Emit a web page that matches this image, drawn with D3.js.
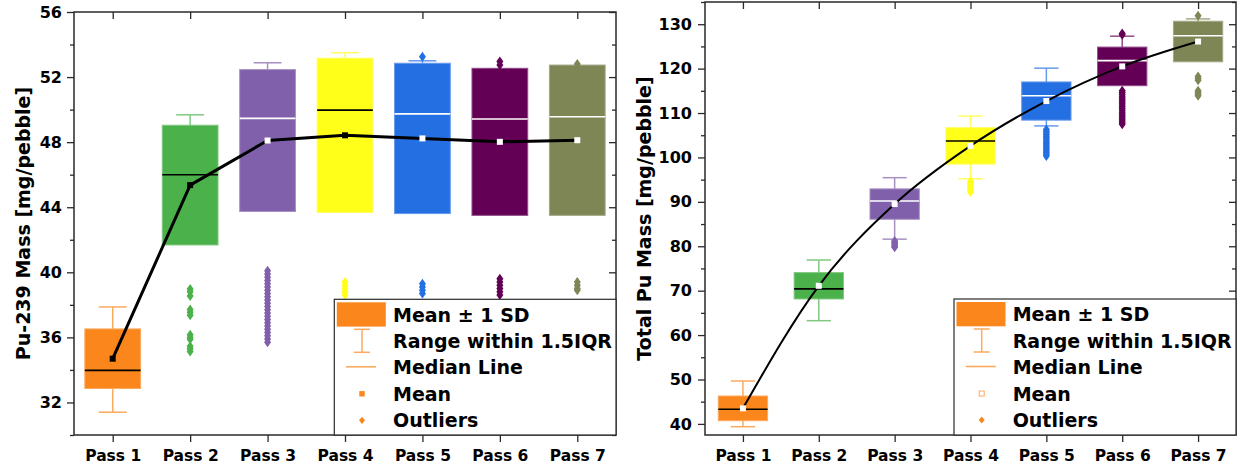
<!DOCTYPE html>
<html>
<head>
<meta charset="utf-8">
<script src="https://cdn.jsdelivr.net/npm/d3@7"></script>
<style>
  body { margin: 0; background: #fff; }
  svg { display: block; }
  text { font-family: "DejaVu Sans", sans-serif; font-weight: bold; fill: #000; }
</style>
</head>
<body>
<svg id="chart" width="1242" height="469"></svg>
<script>
// ---- shared categories and colours ----
const categories = ["Pass 1", "Pass 2", "Pass 3", "Pass 4", "Pass 5", "Pass 6", "Pass 7"];
const passColors = ["#fa861c", "#4bb14a", "#8160ab", "#ffff1a", "#246fe2", "#630056", "#7f8656"];
const legendLabels = ["Mean \u00b1 1 SD", "Range within 1.5IQR", "Median Line", "Mean", "Outliers"];

// ---- Pu-239 mass per pebble ----
const pu239Mean = [34.69, 45.36, 48.10, 48.42, 48.23, 48.02, 48.12];
const pu239SD = [1.83, 3.68, 4.36, 4.74, 4.62, 4.52, 4.62];
const pu239Median = [33.97, 46.0, 49.46, 49.97, 49.74, 49.42, 49.56];
const pu239WhiskerLow = [31.4, 42.0, 44.0, 44.0, 44.0, 44.0, 44.0];
const pu239WhiskerHigh = [37.87, 49.68, 52.88, 53.5, 53.0, 52.5, 52.6];
const pu239Outliers = [
  [],
  [38.97, 38.8, 38.55, 37.72, 37.55, 37.36, 36.16, 36.0, 35.88, 35.45, 35.3, 35.14],
  [40.1, 39.9, 39.7, 39.5, 39.3, 39.1, 38.9, 38.7, 38.5, 38.3, 38.1, 37.9, 37.7,
   37.5, 37.3, 37.1, 36.9, 36.7, 36.5, 36.3, 36.1, 35.9, 35.7],
  [39.4, 39.2, 39.0, 38.8, 38.6],
  [53.25, 39.3, 39.1, 38.9, 38.7],
  [52.95, 52.75, 39.6, 39.4, 39.2, 39.0, 38.8, 38.6],
  [52.8, 39.4, 39.2, 39.0, 38.9]
];
const pu239MajorTicks = [32, 36, 40, 44, 48, 52, 56];
const pu239MinorTicks = [30, 34, 38, 42, 46, 50, 54];

// ---- total Pu mass per pebble ----
const totalPuMean = [43.5, 71.1, 89.5, 102.6, 112.7, 120.5, 126.1];
const totalPuSD = [2.78, 2.97, 3.42, 4.1, 4.3, 4.35, 4.57];
const totalPuMedian = [43.3, 70.4, 90.2, 103.7, 113.9, 121.8, 127.4];
const totalPuWhiskerLow = [39.37, 63.24, 81.6, 95.2, 107.1, 116.5, 122.0];
const totalPuWhiskerHigh = [49.66, 76.9, 95.44, 109.3, 120.1, 127.3, 131.2];
const totalPuOutliers = [
  [],
  [],
  [81.2, 80.9, 80.6, 80.3, 80.0, 79.8],
  [94.6, 94.2, 93.8, 93.4, 93.0, 92.6, 92.2],
  [106.3, 105.9, 105.5, 105.1, 104.7, 104.3, 103.9, 103.5, 103.1, 102.7, 102.3,
   101.9, 101.5, 101.1, 100.7, 100.3],
  [127.9, 127.6, 115.0, 114.6, 114.2, 113.8, 113.4, 113.0, 112.6, 112.2, 111.8,
   111.4, 111.0, 110.6, 110.2, 109.8, 109.4, 109.0, 108.6, 108.2, 107.8, 107.5],
  [131.9, 118.2, 117.8, 117.4, 115.0, 114.6, 114.2, 113.9]
];
const totalPuMajorTicks = [40, 50, 60, 70, 80, 90, 100, 110, 120, 130];
const totalPuMinorTicks = [45, 55, 65, 75, 85, 95, 105, 115, 125, 135];

const svg = d3.select("#chart");
const tint = c => d3.interpolateRgb(c, "#ffffff")(0.3);
const contrast = c => d3.hcl(c).l > 60 ? "#000" : "#fff";
const diamond = (w, h) => `M0,${-h}L${w},0L0,${h}L${-w},0Z`;

function drawPanel(p) {
  const x = d3.scalePoint().domain(categories).range([p.left, p.right]).padding(0.5);
  const y = d3.scaleLinear().domain(p.yDomain).range([p.bottom, p.top]);
  const step = x.step();
  const bw = step * p.boxFrac, cw = step * p.capFrac;
  const rows = categories.map((c, i) => ({
    c, color: passColors[i], mean: p.mean[i], sd: p.sd[i], median: p.median[i],
    lo: p.whiskerLow[i], hi: p.whiskerHigh[i], out: p.outliers[i]
  }));
  const g = svg.append("g");

  // whiskers (behind the boxes)
  const wg = g.append("g").selectAll("g").data(rows).join("g")
    .attr("stroke", d => tint(d.color)).attr("stroke-width", 1.5);
  wg.append("line").attr("x1", d => x(d.c)).attr("x2", d => x(d.c))
    .attr("y1", d => y(d.lo)).attr("y2", d => y(d.hi));
  wg.append("line").attr("x1", d => x(d.c) - cw / 2).attr("x2", d => x(d.c) + cw / 2)
    .attr("y1", d => y(d.hi)).attr("y2", d => y(d.hi));
  wg.append("line").attr("x1", d => x(d.c) - cw / 2).attr("x2", d => x(d.c) + cw / 2)
    .attr("y1", d => y(d.lo)).attr("y2", d => y(d.lo));

  // mean ± 1 SD boxes
  g.append("g").selectAll("rect").data(rows).join("rect")
    .attr("x", d => x(d.c) - bw / 2)
    .attr("y", d => y(d.mean + d.sd))
    .attr("width", bw)
    .attr("height", d => y(d.mean - d.sd) - y(d.mean + d.sd))
    .attr("fill", d => d.color)
    .attr("stroke", d => tint(d.color)).attr("stroke-width", 1);

  // median lines
  g.append("g").selectAll("line").data(rows).join("line")
    .attr("x1", d => x(d.c) - bw / 2).attr("x2", d => x(d.c) + bw / 2)
    .attr("y1", d => y(d.median)).attr("y2", d => y(d.median))
    .attr("stroke", d => contrast(d.color)).attr("stroke-width", 1.6);

  // outliers
  g.append("g").selectAll("g").data(rows).join("g")
    .attr("fill", d => d.color)
    .selectAll("path").data(d => d.out.map(v => ({ c: d.c, v })))
    .join("path")
    .attr("transform", o => `translate(${x(o.c)},${y(o.v)})`)
    .attr("d", diamond(3.5, 5));

  // line through the means
  g.append("path").datum(rows)
    .attr("fill", "none").attr("stroke", "#000").attr("stroke-width", p.lineWidth)
    .attr("stroke-linejoin", "round")
    .attr("d", d3.line().x(d => x(d.c)).y(d => y(d.mean)).curve(p.curve));

  // mean markers
  const ms = p.meanSize;
  g.append("g").selectAll("rect").data(rows).join("rect")
    .attr("x", d => x(d.c) - ms / 2).attr("y", d => y(d.mean) - ms / 2)
    .attr("width", ms).attr("height", ms)
    .attr("fill", d => p.meanWhite ? "#fff" : contrast(d.color));

  // axes
  const axisColor = "#2a2a2a";
  const styleAxis = sel => {
    sel.select(".domain").remove();
    sel.selectAll(".tick line").attr("stroke", axisColor).attr("stroke-width", 1.3);
    sel.selectAll(".tick text").attr("font-size", null).attr("font-family", null).attr("fill", "#000");
  };
  const minorIn = p.minorTicks.filter(v => y(v) >= p.top && y(v) <= p.bottom);
  g.append("g").attr("transform", `translate(${p.left},0)`)
    .call(d3.axisLeft(y).tickValues(p.majorTicks).tickSize(7).tickPadding(p.yPad).tickFormat(d3.format("d")))
    .call(styleAxis).attr("font-size", 16);
  g.append("g").attr("transform", `translate(${p.left},0)`)
    .call(d3.axisLeft(y).tickValues(minorIn).tickSize(4).tickFormat(""))
    .call(styleAxis);
  g.append("g").attr("transform", `translate(${p.right},0)`)
    .call(d3.axisRight(y).tickValues(p.majorTicks).tickSize(-7).tickFormat(""))
    .call(styleAxis);
  g.append("g").attr("transform", `translate(${p.right},0)`)
    .call(d3.axisRight(y).tickValues(minorIn).tickSize(-4).tickFormat(""))
    .call(styleAxis);
  g.append("g").attr("transform", `translate(0,${p.bottom})`)
    .call(d3.axisBottom(x).tickSize(7).tickPadding(8))
    .call(styleAxis).attr("font-size", 15.5);
  g.append("g").attr("transform", `translate(0,${p.top})`)
    .call(d3.axisTop(x).tickSize(-7).tickFormat(""))
    .call(styleAxis);

  // frame
  g.append("rect")
    .attr("x", p.left).attr("y", p.top)
    .attr("width", p.right - p.left).attr("height", p.bottom - p.top)
    .attr("fill", "none").attr("stroke", axisColor).attr("stroke-width", 1.5);

  // y axis title
  g.append("text")
    .attr("transform", `translate(${p.titleX},${(p.top + p.bottom) / 2}) rotate(-90)`)
    .attr("text-anchor", "middle").attr("dy", "0.35em")
    .attr("font-size", 19)
    .text(p.title);

  // legend
  const lx = p.legendX, ly = p.legendY;
  const lc = passColors[0];
  const lg = g.append("g");
  lg.append("rect").attr("x", lx).attr("y", ly)
    .attr("width", p.right - lx).attr("height", p.bottom - ly)
    .attr("fill", "#fff").attr("stroke", axisColor).attr("stroke-width", 1.2);
  lg.append("rect").attr("x", lx + 2.5).attr("y", ly + 3).attr("width", 49).attr("height", 24.3).attr("fill", lc);
  const icx = lx + 27.7;
  const wl = lg.append("g").attr("stroke", tint(lc)).attr("stroke-width", 1.5);
  wl.append("line").attr("x1", icx).attr("x2", icx).attr("y1", ly + 30).attr("y2", ly + 53);
  wl.append("line").attr("x1", icx - 8).attr("x2", icx + 8).attr("y1", ly + 30).attr("y2", ly + 30);
  wl.append("line").attr("x1", icx - 8).attr("x2", icx + 8).attr("y1", ly + 53).attr("y2", ly + 53);
  lg.append("line").attr("x1", lx + 11.7).attr("x2", lx + 41.7)
    .attr("y1", ly + 67.5).attr("y2", ly + 67.5).attr("stroke", tint(lc)).attr("stroke-width", 1.6);
  if (p.meanWhite) {
    lg.append("rect").attr("x", icx - 2.5).attr("y", ly + 94.5 - 2.5).attr("width", 5).attr("height", 5)
      .attr("fill", "#fff").attr("stroke", tint(lc)).attr("stroke-width", 1);
  } else {
    lg.append("rect").attr("x", icx - 2.7).attr("y", ly + 94.5 - 2.7).attr("width", 5.4).attr("height", 5.4)
      .attr("fill", lc);
  }
  lg.append("path").attr("transform", `translate(${icx},${ly + 121})`).attr("d", diamond(3, 3.6)).attr("fill", lc);
  lg.selectAll("text").data(legendLabels).join("text")
    .attr("x", lx + 58.7)
    .attr("y", (d, i) => ly + 15.5 + i * 26.4)
    .attr("dy", "0.36em")
    .attr("font-size", 19)
    .text(d => d);
}

drawPanel({
  left: 74, right: 616, top: 12, bottom: 435,
  yDomain: [30, 56],
  majorTicks: pu239MajorTicks, minorTicks: pu239MinorTicks, yPad: 5,
  mean: pu239Mean, sd: pu239SD, median: pu239Median,
  whiskerLow: pu239WhiskerLow, whiskerHigh: pu239WhiskerHigh, outliers: pu239Outliers,
  boxFrac: 0.72, capFrac: 0.36, lineWidth: 3, meanSize: 6, meanWhite: false,
  curve: d3.curveLinear,
  title: "Pu-239 Mass [mg/pebble]", titleX: 23,
  legendX: 334.3, legendY: 299.3
});

drawPanel({
  left: 705, right: 1236, top: 2, bottom: 435,
  yDomain: [37.5, 135],
  majorTicks: totalPuMajorTicks, minorTicks: totalPuMinorTicks, yPad: 6,
  mean: totalPuMean, sd: totalPuSD, median: totalPuMedian,
  whiskerLow: totalPuWhiskerLow, whiskerHigh: totalPuWhiskerHigh, outliers: totalPuOutliers,
  boxFrac: 0.65, capFrac: 0.32, lineWidth: 2, meanSize: 6, meanWhite: true,
  curve: d3.curveMonotoneX,
  title: "Total Pu Mass [mg/pebble]", titleX: 644,
  legendX: 954, legendY: 299
});
</script>
</body>
</html>
